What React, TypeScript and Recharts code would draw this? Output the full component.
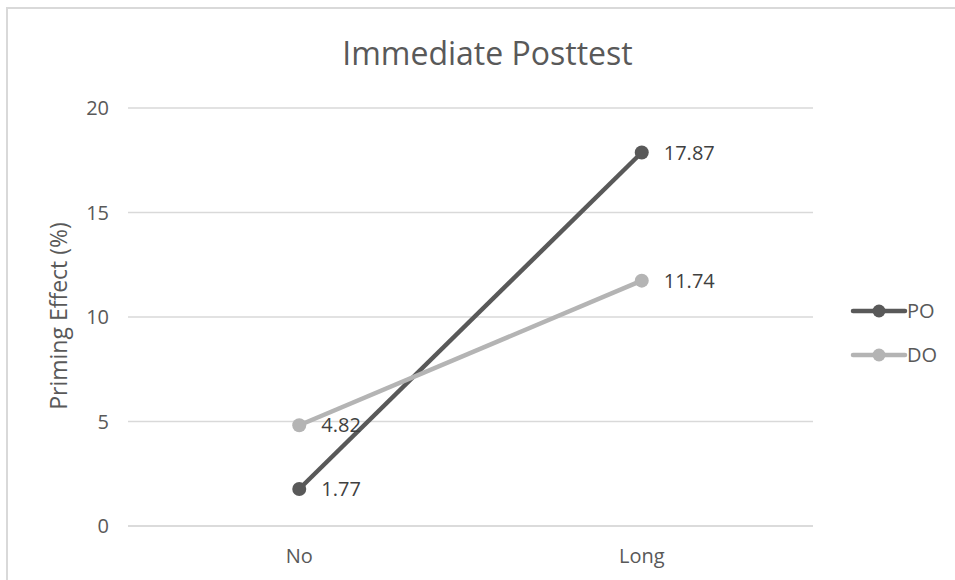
import React from "react";
import {
  CartesianGrid,
  LabelList,
  Legend,
  Line,
  LineChart,
  XAxis,
  YAxis,
} from "recharts";

// Priming effect by condition, immediate posttest
const conditions = ["No", "Long"];
const poValues = [1.77, 17.87];
const doValues = [4.82, 11.74];
const yTicks = [0, 5, 10, 15, 20];

const series = [
  { key: "PO", values: poValues, color: "#595959" },
  { key: "DO", values: doValues, color: "#b4b4b4" },
];

const data = conditions.map((c, i) => ({
  condition: c,
  PO: poValues[i],
  DO: doValues[i],
}));

const FONT = "'Open Sans', 'Segoe UI', sans-serif";
const TEXT = "#595959";

function LegendBox() {
  return (
    <svg width={100} height={84} style={{ display: "block", overflow: "visible" }}>
      {series.map((s, i) => {
        const y = 15 + i * 44;
        return (
          <g key={s.key}>
            <line x1={3} x2={55} y1={y} y2={y} stroke={s.color} strokeWidth={4.5} strokeLinecap="round" />
            <circle cx={29} cy={y} r={6.5} fill={s.color} />
            <text x={57} y={y} dy="0.36em" fill={TEXT} fontSize={20} fontFamily={FONT}>
              {s.key}
            </text>
          </g>
        );
      })}
    </svg>
  );
}

export default function App() {
  return (
    <div style={{ position: "relative", width: 955, height: 580, overflow: "hidden", background: "#fff" }}>
      <style>{`body{margin:0}`}</style>
      <div
        style={{
          position: "absolute",
          left: 6,
          top: 7,
          width: 1100,
          height: 1100,
          border: "2px solid #d9d9d9",
        }}
      />
      <div
        style={{
          position: "absolute",
          top: 31,
          width: 955,
          left: 10,
          textAlign: "center",
          fontFamily: FONT,
          fontSize: 32,
          color: TEXT,
        }}
      >
        Immediate Posttest
      </div>
      <LineChart
        width={955}
        height={580}
        data={data}
        margin={{ top: 108, right: 42, bottom: 18, left: 28 }}
        style={{ position: "absolute", left: 0, top: 0 }}
      >
        <CartesianGrid vertical={false} stroke="#d9d9d9" strokeWidth={1.5} />
        <XAxis
          dataKey="condition"
          scale="band"
          height={36}
          axisLine={{ stroke: "#d9d9d9", strokeWidth: 1.5 }}
          tickLine={false}
          tickMargin={17}
          tick={{ fill: TEXT, fontSize: 20, fontFamily: FONT }}
        />
        <YAxis
          width={100}
          domain={[0, 20]}
          ticks={yTicks}
          axisLine={false}
          tickLine={false}
          tickMargin={13}
          tick={{ fill: TEXT, fontSize: 20, fontFamily: FONT }}
          label={{
            content: () => (
              <text
                x={58}
                y={316}
                transform="rotate(-90 58 316)"
                textAnchor="middle"
                dominantBaseline="central"
                fill={TEXT}
                fontSize={23}
                fontFamily={FONT}
              >
                Priming Effect (%)
              </text>
            ),
          }}
        />
        <Legend
          layout="vertical"
          align="right"
          verticalAlign="top"
          wrapperStyle={{ left: 850, top: 296, width: 100, height: 84 }}
          content={() => <LegendBox />}
        />
        {series.map((s) => (
          <Line
            key={s.key}
            dataKey={s.key}
            stroke={s.color}
            strokeWidth={4.5}
            dot={{ r: 7, fill: s.color, stroke: "none" }}
            activeDot={false}
            isAnimationActive={false}
          >
            <LabelList
              dataKey={s.key}
              content={(p: any) => (
                <text
                  x={p.x + 22}
                  y={p.y}
                  dy="0.36em"
                  fill="#404040"
                  fontSize={20}
                  fontFamily={FONT}
                >
                  {p.value}
                </text>
              )}
            />
          </Line>
        ))}
      </LineChart>
    </div>
  );
}
